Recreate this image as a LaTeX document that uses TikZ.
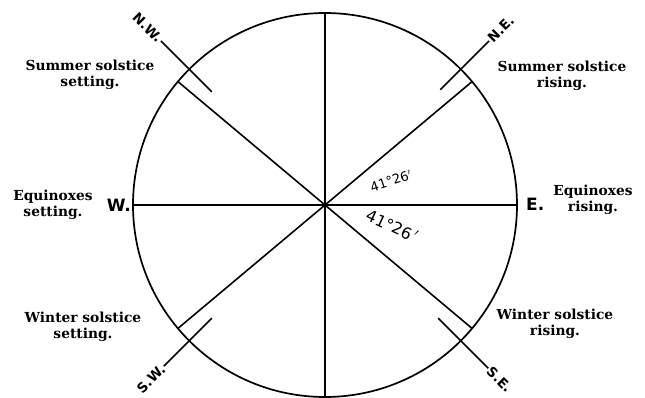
\documentclass[tikz,border=0pt]{standalone}
\usepackage{fontspec}
\usetikzlibrary{positioning}
\newfontfamily\clarendon{DejaVu Serif}
\newfontfamily\gothic{DejaVu Sans}

\begin{document}
\begin{tikzpicture}[
  x=1pt, y=1pt,
  %% Line styles
  rim/.style={line width=1.7pt},
  ray/.style={line width=1.6pt},
  tick/.style={line width=1.6pt},
  %% Text styles
  season/.style={font=\clarendon\bfseries\fontsize{13.8}{16.5}\selectfont, align=center, inner sep=0pt},
  cardinal/.style={font=\gothic\bfseries\fontsize{17}{17}\selectfont, inner sep=1pt},
  quarter/.style={font=\gothic\bfseries\fontsize{13.5}{13.5}\selectfont, inner sep=1pt},
  anglab/.style={font=\gothic\fontsize{13}{13}\selectfont, inner sep=0pt},
]
\useasboundingbox (-325,-192) rectangle (320,205);

%% =============================================================
%%  Circle and points on its rim
%% =============================================================
\coordinate (O) at (0,0);
\draw[rim] (O) circle (192);

\coordinate (top)  at (90:192);
\coordinate (bot)  at (270:192);
\coordinate (west) at (180:192);
\coordinate (east) at (0:192);
\coordinate (ssr)  at (40:192);
\coordinate (wss)  at (220:192);
\coordinate (sss)  at (140:192);
\coordinate (wsr)  at (320:192);

%% Diameters
\draw[ray] (top) -- (bot);
\draw[ray] (west) -- (east);
\draw[ray] (ssr) -- (wss);
\draw[ray] (sss) -- (wsr);

%% =============================================================
%%  Quarter ticks (N.E., N.W., S.W., S.E.)
%% =============================================================
\coordinate (ne1) at (45:163);  \coordinate (ne2) at (45:232);
\coordinate (nw1) at (135:160); \coordinate (nw2) at (135:232);
\coordinate (sw1) at (225:160); \coordinate (sw2) at (225:228);
\coordinate (se1) at (315:160); \coordinate (se2) at (315:231);

\draw[tick] (ne1) -- (ne2);
\draw[tick] (nw1) -- (nw2);
\draw[tick] (sw1) -- (sw2);
\draw[tick] (se1) -- (se2);

\node[quarter, anchor=west, rotate=45]  (NE) at (ne2) {N.E.};
\node[quarter, anchor=east, rotate=-45] (NW) at (nw2) {N.W.};
\node[quarter, anchor=east, rotate=45]  (SW) at (sw2) {S.W.};
\node[quarter, anchor=west, rotate=-45] (SE) at (se2) {S.E.};

%% Cardinal points
\node[cardinal, anchor=east] (W) at (-193,0) {W.};
\node[cardinal, anchor=west] (E) at (200,1) {E.};

%% Angle marks
\node[anglab, rotate=18]  (up)  at (66,24)  {41°26$'$};
\node[anglab, rotate=-25, font=\gothic\fontsize{16}{16}\selectfont] (dn) at (67,-21) {41°26\,$'$};

%% =============================================================
%%  Rising and setting labels
%% =============================================================
\node[season] (sset) at (-235,130) {Summer solstice\\setting.};
\node[season] (sris) at (237,129)  {Summer solstice\\rising.};
\node[season] (eset) at (-272,0)   {Equinoxes\\setting.};
\node[season] (eris) at (268,5)    {Equinoxes\\rising.};
\node[season] (wset) at (-242,-122) {Winter solstice\\setting.};
\node[season] (wris) at (230,-119) {Winter solstice\\rising.};

\end{tikzpicture}
\end{document}
